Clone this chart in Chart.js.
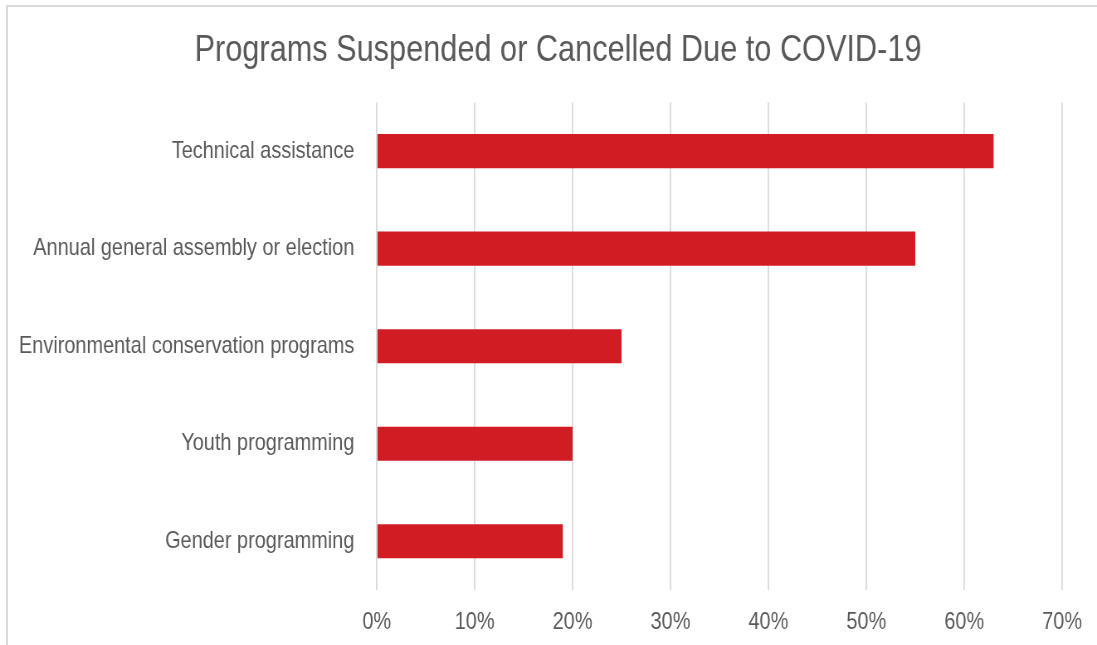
<!DOCTYPE html>
<html>
<head>
<meta charset="utf-8">
<title>Programs Suspended or Cancelled Due to COVID-19</title>
<script src="https://cdn.jsdelivr.net/npm/chart.js@4/dist/chart.umd.min.js"></script>
<style>
    html, body { margin: 0; padding: 0; background: #ffffff; overflow: hidden; }
    .frame {
        position: absolute;
        left: 6px;
        top: 5px;
        width: 1300px;
        height: 900px;
        border: 2px solid #d9d9d9;
    }
    /* canvas is drawn wide and squeezed horizontally to get a narrow typeface look */
    .chart-box {
        position: absolute;
        left: 0;
        top: 0;
        width: 1322px;
        height: 645px;
        transform: scaleX(0.8298);
        transform-origin: 0 0;
    }
</style>
</head>
<body>
<div class="frame"></div>
<div class="chart-box"><canvas id="programsChart" width="1322" height="645"></canvas></div>
<script>
// Share of organizations reporting each program type as suspended/cancelled
const categories = [
    'Technical assistance',
    'Annual general assembly or election',
    'Environmental conservation programs',
    'Youth programming',
    'Gender programming'
];
const shareSuspended = [63, 55, 25, 20, 19];
const tickValues = [0, 10, 20, 30, 40, 50, 60, 70];

const textColor = '#595959';
const gridColor = '#d9d9d9';
const barColor = '#d11c24';
const fontFamily = '"Liberation Sans", Arial, sans-serif';

// Title is centred over a slightly narrower span than the full canvas
const titleShift = {
    id: 'titleShift',
    afterLayout: function(chart) {
        if (chart.titleBlock) {
            chart.titleBlock.left = 65;
        }
    }
};

document.addEventListener('DOMContentLoaded', function() {
    const canvas = document.getElementById('programsChart');

    new Chart(canvas, {
        type: 'bar',
        data: {
            labels: categories,
            datasets: [{
                data: shareSuspended,
                backgroundColor: barColor,
                borderWidth: 0,
                categoryPercentage: 0.7,
                barPercentage: 0.5
            }]
        },
        plugins: [titleShift],
        options: {
            indexAxis: 'y',
            responsive: false,
            animation: false,
            layout: {
                padding: { left: 20, right: 42, top: 0, bottom: 0 }
            },
            plugins: {
                legend: { display: false },
                tooltip: { enabled: false },
                title: {
                    display: true,
                    text: 'Programs Suspended or Cancelled Due to COVID-19',
                    color: textColor,
                    font: { family: fontFamily, size: 37, weight: 'normal' },
                    padding: { top: 29, bottom: 29 }
                }
            },
            scales: {
                x: {
                    min: 0,
                    max: 70,
                    afterBuildTicks: function(scale) {
                        scale.ticks = tickValues.map(v => ({ value: v }));
                    },
                    afterFit: function(scale) {
                        scale.height = 55;
                    },
                    border: { display: false },
                    grid: {
                        color: gridColor,
                        lineWidth: 1.8,
                        drawTicks: false
                    },
                    ticks: {
                        color: textColor,
                        padding: 18,
                        font: { family: fontFamily, size: 24 },
                        callback: function(value) {
                            return value + '%';
                        }
                    }
                },
                y: {
                    afterFit: function(scale) {
                        // keep the plot's left edge fixed regardless of label widths
                        scale.width = 434;
                    },
                    border: { display: false },
                    grid: { display: false, drawTicks: false },
                    ticks: {
                        color: textColor,
                        padding: 27,
                        font: { family: fontFamily, size: 24 }
                    }
                }
            }
        }
    });
});
</script>
</body>
</html>
